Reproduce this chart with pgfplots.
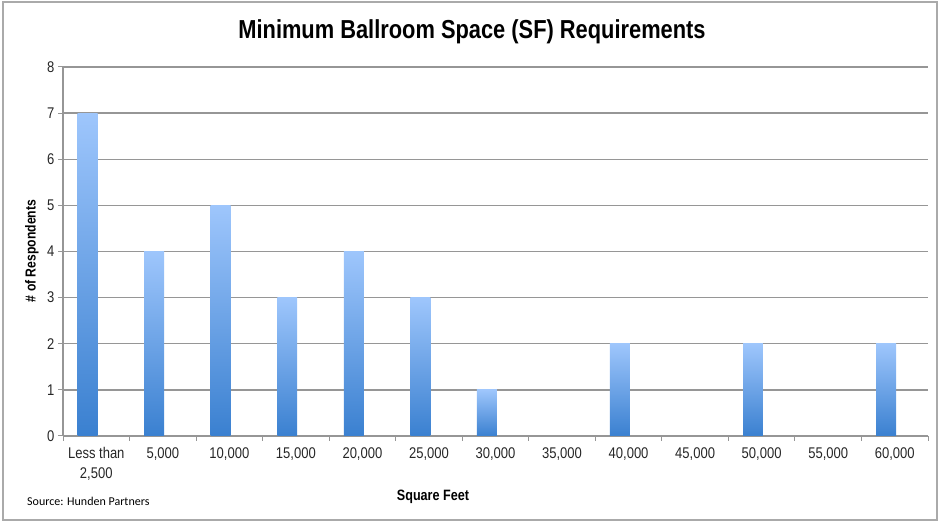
\documentclass[border=0pt]{standalone}
\usepackage{fontspec}
\setmainfont{Liberation Sans}[FakeStretch=0.84]
\newfontfamily\srcfont{Carlito}
\usepackage{pgfplots}
\pgfplotsset{compat=1.18}
\definecolor{gridgray}{RGB}{150,150,150}
\definecolor{bartop}{RGB}{158,198,252}
\definecolor{barbot}{RGB}{58,128,208}
\pgfplotsset{gbar/.style={ybar, bar width=0.3, bar shift=-0.13, draw=none,
  shade, top color=bartop, bottom color=barbot}}
\begin{document}
\begin{tikzpicture}
  \path[use as bounding box] (0,0) rectangle (946pt,522pt);
  \draw[color={rgb,255:red,170;green,170;blue,170}, line width=1.2pt] (3pt,2pt) rectangle (937pt,520pt);
  \begin{axis}[
    at={(63pt,86pt)}, anchor=south west,
    scale only axis,
    width=865pt, height=369pt,
    xmin=-0.5, xmax=12.5,
    ymin=0, ymax=8,
    axis lines*=left,
    axis line style={draw=gridgray, line width=1.3pt, -},
    ymajorgrids,
    grid style={draw=gridgray, line width=1.3pt},
    xtick={0,...,12},
    xticklabels={{Less than\\2,500},{5,000},{10,000},{15,000},{20,000},{25,000},{30,000},{35,000},{40,000},{45,000},{50,000},{55,000},{60,000}},
    xticklabel style={align=center, font=\fontsize{15.5}{20}\selectfont, text=black!85, yshift=-3pt},
    minor xtick={-0.5,0.5,...,12.5},
    major x tick style={draw=none},
    minor x tick style={draw=gridgray, line width=1pt},
    ytick={0,...,8},
    y tick style={draw=gridgray, line width=1pt},
    yticklabel style={font=\fontsize{15.5}{16}\selectfont, text=black!85},
    /pgf/number format/assume math mode=true,
    tick align=outside,
    major tick length=5pt, minor tick length=5pt,
    clip=false,
  ]
    \addplot[gbar] coordinates {(0,7)};
    \addplot[gbar] coordinates {(1,4)};
    \addplot[gbar] coordinates {(2,5)};
    \addplot[gbar] coordinates {(3,3)};
    \addplot[gbar] coordinates {(4,4)};
    \addplot[gbar] coordinates {(5,3)};
    \addplot[gbar] coordinates {(6,1)};
    \addplot[gbar] coordinates {(7,0)};
    \addplot[gbar] coordinates {(8,2)};
    \addplot[gbar] coordinates {(9,0)};
    \addplot[gbar] coordinates {(10,2)};
    \addplot[gbar] coordinates {(11,0)};
    \addplot[gbar] coordinates {(12,2)};
  \end{axis}
  \node[font=\fontsize{26}{30}\selectfont\bfseries] at (472pt,490pt) {Minimum Ballroom Space (SF) Requirements};
  \node[font=\fontsize{15}{17}\selectfont\bfseries] at (433pt,25pt) {Square Feet};
  \node[font=\fontsize{14.5}{17}\selectfont\bfseries, rotate=90] at (32pt,271pt) {\# of Respondents};
  \node[font=\srcfont\fontsize{12}{14}\selectfont, anchor=west, inner sep=0pt] at (27pt,21pt) {Source: Hunden Partners};
\end{tikzpicture}
\end{document}
